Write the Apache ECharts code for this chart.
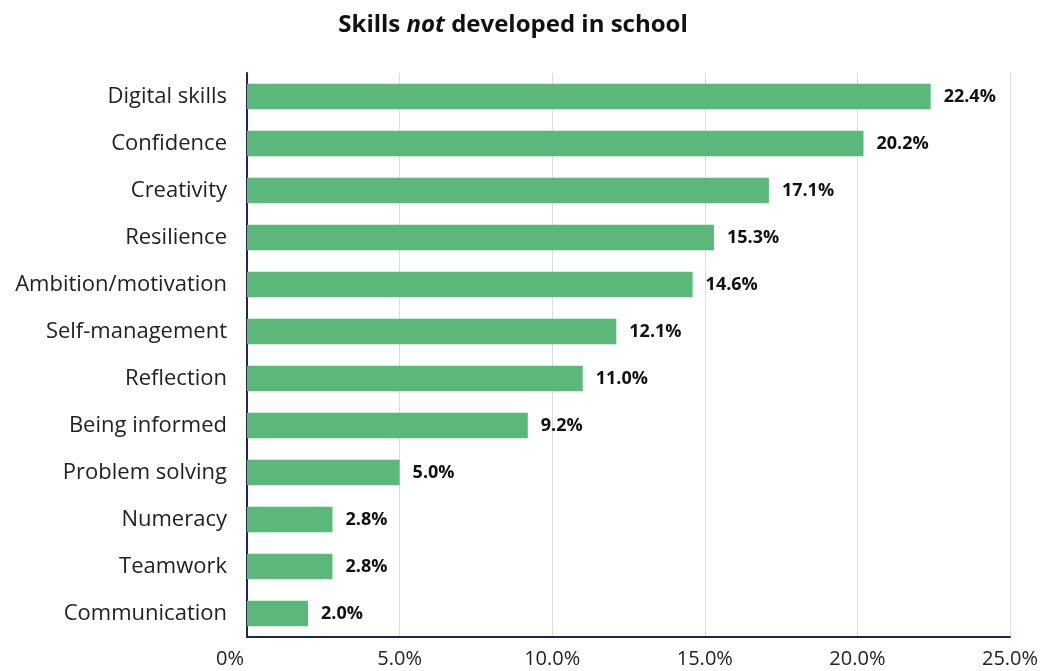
<!DOCTYPE html>
<html><head><meta charset="utf-8">
<script src="https://cdn.jsdelivr.net/npm/echarts@6/dist/echarts.min.js"></script>
<style>html,body{margin:0;padding:0;background:#fff}#c{width:1042px;height:671px}</style>
</head><body><div id="c"></div>
<script>
const categories = ["Digital skills","Confidence","Creativity","Resilience","Ambition/motivation","Self-management","Reflection","Being informed","Problem solving","Numeracy","Teamwork","Communication"];
const values = [22.4,20.2,17.1,15.3,14.6,12.1,11.0,9.2,5.0,2.8,2.8,2.0];
const tickLabels = ["0%","5.0%","10.0%","15.0%","20.0%","25.0%"];
const font = "'Open Sans', 'Noto Sans', sans-serif";
const chart = echarts.init(document.getElementById('c'));
chart.setOption({
  animation:false,
  title:{
    text:'{b|Skills }{i|not}{b| developed in school}',
    left:508, textAlign:'center', top:8,
    textStyle:{rich:{
      b:{fontFamily:font,fontWeight:'bold',fontSize:24,color:'#111'},
      i:{fontFamily:font,fontWeight:'bold',fontStyle:'italic',fontSize:24,color:'#111'}
    }}
  },
  grid:{left:247,right:32,top:73,bottom:34,containLabel:false},
  xAxis:{
    type:'value',min:0,max:25,interval:5,
    axisLine:{show:true,lineStyle:{color:'#1c2b48',width:2}},
    axisTick:{show:false},
    splitLine:{show:true,lineStyle:{color:'#dcdcdc',width:1}},
    axisLabel:{margin:12,fontFamily:font,fontSize:20,color:'#222',
      formatter:function(v){var i=Math.round(v/5);return i===0?'{z|'+tickLabels[0]+'}':tickLabels[i];},
      rich:{z:{fontFamily:font,fontSize:20,color:'#222',padding:[0,34,0,0]}}}
  },
  yAxis:{
    type:'category',data:categories,inverse:true,
    axisLine:{show:true,lineStyle:{color:'#1c2b48',width:2}},
    axisTick:{show:false},
    axisLabel:{margin:20,fontFamily:font,fontSize:22,color:'#222'}
  },
  series:[{
    type:'bar',data:values,barCategoryGap:'46%',
    itemStyle:{color:'#5cb87a'},
    label:{show:true,position:'right',distance:13,fontFamily:font,fontWeight:'bold',fontSize:18,color:'#111',
      formatter:function(p){return p.value.toFixed(1)+'%';}}
  }]
});
</script></body></html>
